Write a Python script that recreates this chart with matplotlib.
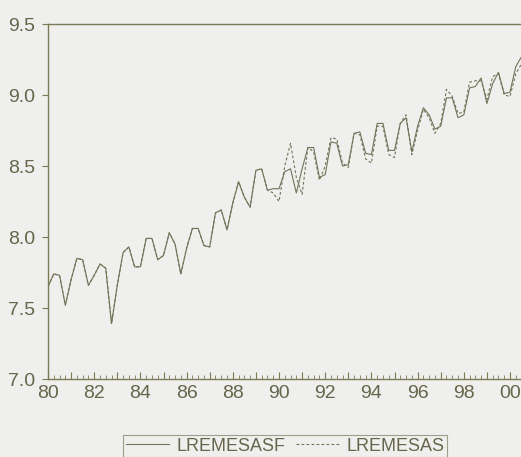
import matplotlib
matplotlib.use("Agg")
import matplotlib.pyplot as plt
from matplotlib.ticker import MultipleLocator, FuncFormatter
import numpy as np

# quarterly observations, 1980Q1 onwards
start_year = 1980
lremesasf = [
    7.65, 7.74, 7.73, 7.52, 7.70, 7.85, 7.84, 7.66,
    7.73, 7.81, 7.78, 7.39, 7.66, 7.89, 7.93, 7.79,
    7.79, 7.99, 7.99, 7.84, 7.87, 8.03, 7.95, 7.74,
    7.92, 8.06, 8.06, 7.94, 7.93, 8.17, 8.19, 8.05,
    8.24, 8.39, 8.28, 8.21, 8.47, 8.48, 8.33, 8.34,
    8.34, 8.46, 8.48, 8.31, 8.48, 8.63, 8.63, 8.42,
    8.44, 8.67, 8.66, 8.50, 8.51, 8.73, 8.74, 8.59,
    8.58, 8.80, 8.80, 8.61, 8.61, 8.80, 8.84, 8.60,
    8.78, 8.91, 8.86, 8.76, 8.78, 8.98, 8.98, 8.84,
    8.86, 9.05, 9.06, 9.12, 8.94, 9.08, 9.16, 9.01,
    9.02, 9.20, 9.27,
]
lremesas = lremesasf[:39] + [
    8.31,
    8.25, 8.50, 8.66, 8.42, 8.30, 8.63, 8.60, 8.40,
    8.50, 8.70, 8.69, 8.52, 8.49, 8.73, 8.72, 8.55,
    8.52, 8.78, 8.78, 8.58, 8.56, 8.80, 8.86, 8.58,
    8.75, 8.90, 8.84, 8.73, 8.80, 9.04, 8.99, 8.87,
    8.88, 9.09, 9.10, 9.10, 8.97, 9.13, 9.15, 9.00,
    8.99, 9.15, 9.22,
]

t1 = start_year + np.arange(len(lremesasf)) / 4
t2 = start_year + np.arange(len(lremesas)) / 4

bg = "#efefed"
line_col = "#737359"
axis_col = "#7a7a55"
text_col = "#66664c"

plt.rcParams["font.family"] = ["Liberation Sans", "DejaVu Sans"]

fig = plt.figure(figsize=(5.21, 4.57), dpi=100, facecolor=bg)
ax = fig.add_axes([48 / 521, 78 / 457, 473 / 521, 355 / 457], facecolor=bg)

ax.plot(t1, lremesasf, color=line_col, lw=0.8, label="LREMESASF")
ax.plot(t2, lremesas, color=line_col, lw=0.8, ls=(0, (2.5, 2)), label="LREMESAS")

ax.set_xlim(1980, 1980 + 473 / 23.1)
ax.set_ylim(7.0, 9.5)

ax.xaxis.set_major_locator(MultipleLocator(1))
ax.xaxis.set_minor_locator(MultipleLocator(0.25))
ax.xaxis.set_major_formatter(FuncFormatter(
    lambda v, p: "%02d" % (int(round(v)) % 100) if int(round(v)) % 2 == 0 else ""))
ax.yaxis.set_major_locator(MultipleLocator(0.5))
ax.yaxis.set_major_formatter(FuncFormatter(lambda v, p: "%.1f" % v))

ax.tick_params(axis="x", which="major", direction="in", length=5, width=0.8,
               color=axis_col, labelcolor=text_col, labelsize=14, pad=4)
ax.tick_params(axis="x", which="minor", direction="in", length=3, width=0.6,
               color=axis_col)
ax.tick_params(axis="y", which="major", direction="out", length=4, width=0.8,
               color=axis_col, labelcolor=text_col, labelsize=14, pad=5)

for side in ["left", "bottom", "top"]:
    ax.spines[side].set_color(axis_col)
    ax.spines[side].set_linewidth(1.0)
ax.spines["right"].set_visible(False)

leg = fig.legend(loc="upper center", bbox_to_anchor=(285 / 521, 22 / 457),
                 borderaxespad=0, ncol=2, frameon=True, fancybox=False,
                 fontsize=13, handlelength=2.4, handletextpad=0.4,
                 columnspacing=0.6, borderpad=0.15, labelcolor=text_col)
leg.get_frame().set_edgecolor("#8a8a70")
leg.get_frame().set_facecolor(bg)
leg.get_frame().set_linewidth(0.8)

fig.savefig("out.png", dpi=100, facecolor=bg)
